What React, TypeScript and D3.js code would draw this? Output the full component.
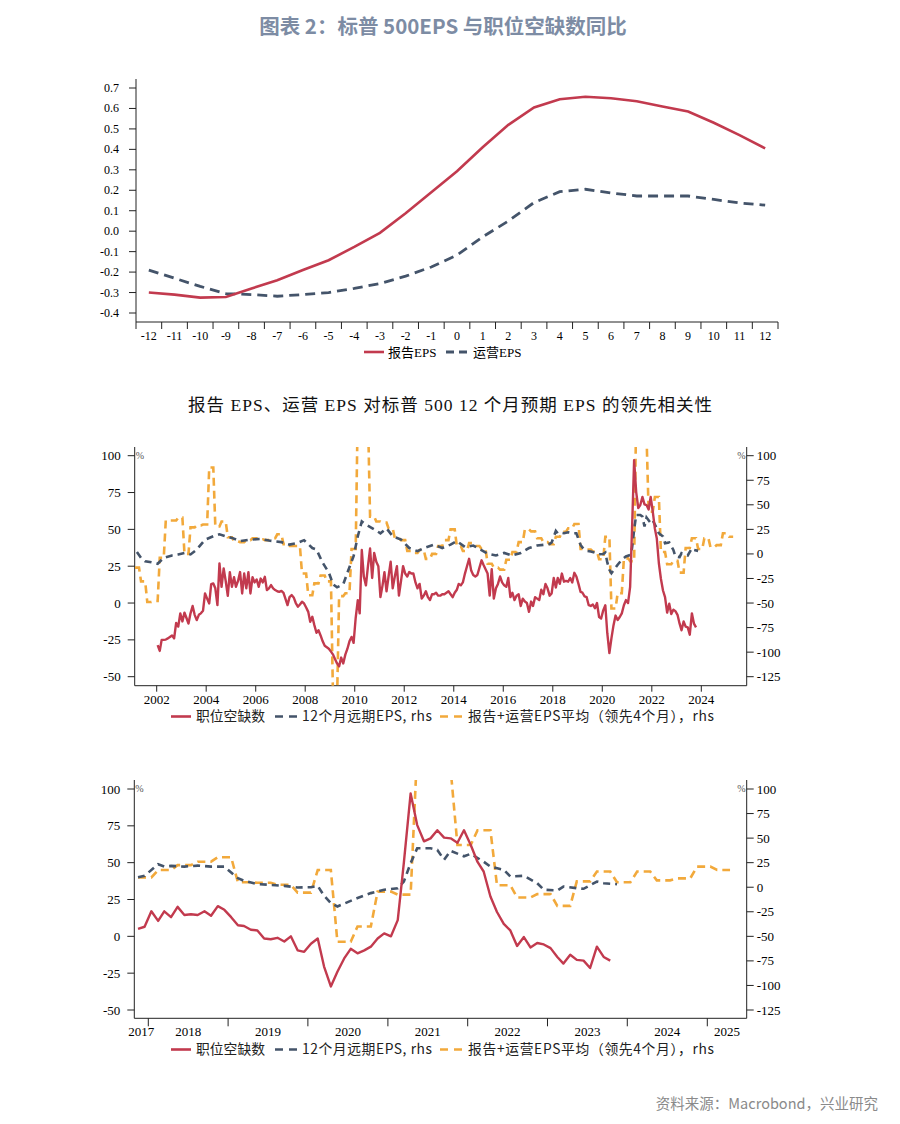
import * as d3 from "d3";
import React, { useEffect, useRef } from "react";

// ---- top chart: lead correlation ----
const lags = ["-12", "-11", "-10", "-9", "-8", "-7", "-6", "-5", "-4", "-3", "-2", "-1", "0", "1", "2", "3", "4", "5", "6", "7", "8", "9", "10", "11", "12"];
const reportedEps = [-0.3, -0.31, -0.325, -0.322, -0.28, -0.24, -0.19, -0.142, -0.077, -0.008, 0.088, 0.19, 0.293, 0.41, 0.52, 0.605, 0.645, 0.657, 0.65, 0.635, 0.61, 0.585, 0.53, 0.47, 0.405];
const operatingEps = [-0.19, -0.23, -0.27, -0.305, -0.31, -0.318, -0.31, -0.3, -0.28, -0.256, -0.22, -0.175, -0.117, -0.028, 0.05, 0.14, 0.193, 0.205, 0.187, 0.172, 0.172, 0.172, 0.155, 0.138, 0.127];
const topYTicks = [-0.4, -0.3, -0.2, -0.1, 0, 0.1, 0.2, 0.3, 0.4, 0.5, 0.6, 0.7];

// ---- job openings YoY (%), monthly from 2002-01 ----
const jobStart = "2002-01";
const jobOpenings = [
  -28.6, -32.5, -25, -25, -24.8, -24, -23, -22, -24, -13.5, -16, -7,
  -12.5, -6.5, -10, -13.9, -7, -2, -8, -11.6, -8, -7, -5.3, 6.5,
  3, -0.3, 12.8, 13.3, 10, -1.4, 26.9, 11, 23.5, 15, 4.9, 21,
  11, 17.5, 11, 15, 21, 6.5, 20, 10, 21, 6.5, 17.5, 14,
  16, 11, 16.6, 14, 17.8, 8.8, 10, 12.2, 10, 8.8, 8, 7.6,
  8.2, 6.9, 3, -1.4, 4, 5.4, 3.8, 0, -2.5, -1, 0.9, -0.3,
  -3, -6, -12.7, -9.3, -15, -20.2, -18.5, -22, -26, -29, -30, -31,
  -33, -35, -38, -41, -43, -37, -41, -35, -31, -26, -23, -27,
  -10, 2, -7, 36, 18, 12, 25, 37, 17, 34, 28, 25,
  4, 12, 21, 8, 18, 28, 10, 18, 25, 5, 15, 25,
  20, 18, 21, 20, 20, 14, 10, 13, 3, 5, 8, 4,
  2, 6, 6, 7, 5, 5, 6, 6, 7, 8, 6, 4,
  7, 9, 13, 12, 14, 20, 25, 30, 22, 19, 18, 19,
  24, 29, 26, 23, 20, 5, 23, 3, 10, 13, 18, 14,
  12, 11, 17, 4, 7, 2, 5, 6, -2, 3, 1, 0,
  -6, 1, -2, 4, 3, 2, 9, 6, 13, 10, 5, 6.5,
  17, 10.5, 17, 13, 20, 14.5, 15, 14.5, 17, 14, 20.5, 18,
  13, 7.5, 7, 4.5, 4, -1.5, -2, -1, -3.5, 0, -9.5, -10.5,
  -5, -1.5, -20.5, -34, -24, -15, -8.5, -11.5, -9.5, -7, -1.5, 2,
  0, 11, 50, 97, 75.5, 64.5, 66.5, 72, 67, 66.5, 63.5, 72,
  62, 50.5, 44, 27, 16.5, 8.5, 4, -6.5, -0.5, -7.5, -4.5, -5.5,
  -8, -14, -18.5, -12.5, -16, -16.5, -21.5, -7, -14, -16.5,
];

// ---- 12M forward EPS YoY (%), rhs ----
const fwdEps: [string, number][] = [
  ["2001-03", 2], ["2001-05", -4], ["2001-07", -7.5], ["2001-10", -8.5], ["2002-01", -10], ["2002-04", -4],
  ["2002-08", -1.5], ["2002-11", -0.5], ["2003-02", 1], ["2003-05", -0.5], ["2003-08", 4.5], ["2003-12", 14.5],
  ["2004-04", 18], ["2004-07", 20], ["2004-10", 18], ["2005-01", 16.3], ["2005-05", 13], ["2005-10", 14.6],
  ["2006-03", 15.3], ["2006-07", 13.6], ["2007-01", 12], ["2007-05", 9.5], ["2007-09", 11.3], ["2007-12", 14],
  ["2008-04", 6], ["2008-06", 4.5], ["2008-09", -9], ["2008-12", -19], ["2009-02", -31], ["2009-04", -34],
  ["2009-07", -31], ["2009-09", -19], ["2009-12", -2.3], ["2010-02", 18], ["2010-04", 33], ["2010-06", 30],
  ["2010-10", 25], ["2011-01", 21], ["2011-04", 26], ["2011-07", 18], ["2011-11", 14.6], ["2012-03", 6],
  ["2012-07", 2.8], ["2012-10", 6], ["2013-03", 9.5], ["2013-07", 6], ["2013-11", 9.5], ["2014-02", 13],
  ["2014-06", 7], ["2014-10", 8.5], ["2015-01", 5], ["2015-05", 0.4], ["2015-09", -1.6], ["2016-01", 1],
  ["2016-05", -1.6], ["2016-09", 1], ["2017-01", 6], ["2017-05", 8.5], ["2017-09", 9.5], ["2017-11", 10.2],
  ["2017-12", 11.6], ["2018-02", 23.4], ["2018-03", 21], ["2018-04", 21.7], ["2018-06", 21], ["2018-08", 22],
  ["2018-10", 21], ["2018-12", 21], ["2019-01", 15], ["2019-02", 9.2], ["2019-03", 6.5], ["2019-05", 3.1],
  ["2019-07", 2.4], ["2019-09", 1.4], ["2019-11", -0.3], ["2020-01", 0], ["2020-02", 1.4], ["2020-03", -8.7],
  ["2020-04", -16.2], ["2020-05", -19.6], ["2020-08", -11], ["2020-10", -6], ["2020-12", -2.6], ["2021-02", -1],
  ["2021-03", 5.8], ["2021-04", 24.5], ["2021-05", 39.7], ["2021-07", 39.7], ["2021-08", 38], ["2021-09", 28],
  ["2021-10", 37], ["2021-12", 31.5], ["2022-01", 34], ["2022-03", 26], ["2022-04", 21], ["2022-06", 17.7],
  ["2022-07", 10.9], ["2022-09", 11.6], ["2022-11", 4.1], ["2022-12", -2.6], ["2023-02", -3.3], ["2023-03", 0.7],
  ["2023-05", -1], ["2023-06", -1.6], ["2023-08", 5.8], ["2023-09", 4.1], ["2023-11", 3.1],
];

// ---- reported + operating EPS average, 4m lead (%), rhs: one value per 3-month block from 2001-02 ----
const avgStart = "2001-02";
const epsAvg = [
  -14, -28, -49, -48, -4, 34, 34, 37, 0, 27, 29, 30, 88, 28, 33, 17, 13, 12, 14, 16, 15, 14, 16, 20,
  10, 8, 8, -20, -42, -30, -22, -28, -150, -43, -40, 5, 150, 140, 38, 33, 32, 26, 16, 14, 3, 1, 4, -5,
  0, 8, 14, 25, 8, 3, 11, 8, 5, -10, -14, -16, -6, 2, 12, 25, 23, 16, 12, 10, 17.5, 22.5, 26, 30.5,
  5, 4.5, 2.5, -5.5, 17.5, -55.5, -40, -4.5, -7.5, 140, 120, 43, 58, 2, -10.5, -7, -19, 6, 16, 5,
  16, 7, 9, 21, 17.5,
];

const leftTicks = [-50, -25, 0, 25, 50, 75, 100];
const rightTicks = [-125, -100, -75, -50, -25, 0, 25, 50, 75, 100];
const midYears = [2002, 2004, 2006, 2008, 2010, 2012, 2014, 2016, 2018, 2020, 2022, 2024];
const lowYears = [2017, 2018, 2019, 2020, 2021, 2022, 2023, 2024, 2025];

const RED = "#c23a4e";
const NAVY = "#44546a";
const ORANGE = "#f2a93b";
const SERIF = "'Liberation Serif', 'Times New Roman', 'Noto Sans CJK SC', serif";
const CJK = "'Noto Sans CJK SC', 'Noto Sans', sans-serif";

const monthDate = (s: string, add = 0) => {
  const [y, m] = s.split("-").map(Number);
  return new Date(y, m - 1 + add, 15);
};

export default function App() {
  const ref = useRef<SVGSVGElement | null>(null);

  useEffect(() => {
    const svg = d3.select(ref.current);
    svg.selectAll("*").remove();

    svg.append("text").attr("x", 443).attr("y", 34).attr("text-anchor", "middle")
      .attr("font-family", CJK).attr("font-weight", 700).attr("font-size", 20.5).attr("fill", "#7d8ca4")
      .text("图表 2：标普 500EPS 与职位空缺数同比");

    // ================= top chart =================
    const tx = d3.scaleBand<string>().domain(lags).range([136, 778]);
    const ty = d3.scaleLinear().domain([-0.4, 0.7]).range([313, 88]);
    const top = svg.append("g");
    top.append("line").attr("x1", 136).attr("x2", 136).attr("y1", 79).attr("y2", 322).attr("stroke", "#222");
    top.append("line").attr("x1", 136).attr("x2", 778).attr("y1", 322).attr("y2", 322).attr("stroke", "#222");
    topYTicks.forEach((t) => {
      top.append("line").attr("x1", 129).attr("x2", 136).attr("y1", ty(t)).attr("y2", ty(t)).attr("stroke", "#222");
      top.append("text").attr("x", 119).attr("y", ty(t) + 4).attr("text-anchor", "end")
        .attr("font-family", SERIF).attr("font-size", 12).text(t.toFixed(1));
    });
    lags.forEach((l, i) => {
      const x0 = tx(l)!;
      top.append("line").attr("x1", x0).attr("x2", x0).attr("y1", 322).attr("y2", 329).attr("stroke", "#222");
      if (i === lags.length - 1) {
        top.append("line").attr("x1", x0 + tx.bandwidth()).attr("x2", x0 + tx.bandwidth()).attr("y1", 322).attr("y2", 329).attr("stroke", "#222");
      }
      top.append("text").attr("x", x0 + tx.bandwidth() / 2).attr("y", 340).attr("text-anchor", "middle")
        .attr("font-family", SERIF).attr("font-size", 12).text(l);
    });
    const topLine = d3.line<number>().x((_, i) => tx(lags[i])! + tx.bandwidth() / 2).y((d) => ty(d));
    top.append("path").attr("d", topLine(operatingEps)).attr("fill", "none").attr("stroke", NAVY)
      .attr("stroke-width", 2.8).attr("stroke-dasharray", "10,6");
    top.append("path").attr("d", topLine(reportedEps)).attr("fill", "none").attr("stroke", RED).attr("stroke-width", 2.6);
    // legend
    top.append("line").attr("x1", 364).attr("x2", 384).attr("y1", 352).attr("y2", 352).attr("stroke", RED).attr("stroke-width", 2.6);
    top.append("text").attr("x", 388).attr("y", 356.5).attr("font-family", SERIF).attr("font-size", 13).text("报告EPS");
    top.append("line").attr("x1", 446).attr("x2", 469).attr("y1", 352).attr("y2", 352).attr("stroke", NAVY)
      .attr("stroke-width", 2.8).attr("stroke-dasharray", "8,5");
    top.append("text").attr("x", 473).attr("y", 356.5).attr("font-family", SERIF).attr("font-size", 13).text("运营EPS");

    svg.append("text").attr("x", 188).attr("y", 411)
      .attr("font-family", SERIF).attr("font-size", 17.5).attr("fill", "#111")
      .attr("textLength", 524).attr("lengthAdjust", "spacing")
      .text("报告 EPS、运营 EPS 对标普 500 12 个月预期 EPS 的领先相关性");

    // ================= time-series panels =================
    const redPts: [Date, number][] = jobOpenings.map((v, i) => [monthDate(jobStart, i), v]);
    const bluePts: [Date, number][] = fwdEps.map(([s, v]) => [monthDate(s), v]);
    const orangePts: [Date, number][] = epsAvg.flatMap((v, i) => [
      [monthDate(avgStart, 3 * i), v] as [Date, number],
      [monthDate(avgStart, 3 * i + 2), v] as [Date, number],
    ]);

    const panel = (o: {
      id: string; left: number; right: number; top: number; bottom: number;
      y100: number; yLow: number; d0: Date; d1: Date; x0: number; x1: number;
      minDate: Date; boundaries: boolean; legendY: number;
    }) => {
      const g = svg.append("g");
      const x = d3.scaleTime().domain([o.d0, o.d1]).range([o.x0, o.x1]);
      const yl = d3.scaleLinear().domain([-50, 100]).range([o.yLow, o.y100]);
      const yr = d3.scaleLinear().domain([-125, 100]).range([o.yLow, o.y100]);

      g.append("clipPath").attr("id", o.id).append("rect")
        .attr("x", o.left).attr("y", o.top).attr("width", o.right - o.left).attr("height", o.bottom - o.top);

      // axes
      g.append("line").attr("x1", o.left).attr("x2", o.left).attr("y1", o.top).attr("y2", o.bottom).attr("stroke", "#222");
      g.append("line").attr("x1", o.right).attr("x2", o.right).attr("y1", o.top).attr("y2", o.bottom).attr("stroke", "#222");
      g.append("line").attr("x1", o.left).attr("x2", o.right).attr("y1", o.bottom).attr("y2", o.bottom).attr("stroke", "#222");
      leftTicks.forEach((t) => {
        g.append("line").attr("x1", o.left - 7).attr("x2", o.left).attr("y1", yl(t)).attr("y2", yl(t)).attr("stroke", "#222");
        g.append("text").attr("x", o.left - 14).attr("y", yl(t) + 4.5).attr("text-anchor", "end")
          .attr("font-family", SERIF).attr("font-size", 13).text(t);
      });
      rightTicks.forEach((t) => {
        g.append("line").attr("x1", o.right).attr("x2", o.right + 7).attr("y1", yr(t)).attr("y2", yr(t)).attr("stroke", "#222");
        g.append("text").attr("x", o.right + 10).attr("y", yr(t) + 4.5)
          .attr("font-family", SERIF).attr("font-size", 13).text(t);
      });
      g.append("text").attr("x", o.left + 1).attr("y", o.y100 + 3).attr("font-family", SERIF).attr("font-size", 10).attr("fill", "#555").text("%");
      g.append("text").attr("x", o.right - 1).attr("y", o.y100 + 3).attr("text-anchor", "end").attr("font-family", SERIF).attr("font-size", 10).attr("fill", "#555").text("%");

      if (!o.boundaries) {
        midYears.forEach((yv) => {
          const xx = x(new Date(yv, 0, 1));
          g.append("line").attr("x1", xx).attr("x2", xx).attr("y1", o.bottom).attr("y2", o.bottom + 6).attr("stroke", "#222");
          g.append("text").attr("x", xx).attr("y", o.bottom + 18).attr("text-anchor", "middle")
            .attr("font-family", SERIF).attr("font-size", 13).text(yv);
        });
      } else {
        lowYears.forEach((yv) => {
          const a = Math.max(o.left, x(new Date(yv, 0, 1)));
          const b = Math.min(o.right, x(new Date(yv + 1, 0, 1)));
          if (yv > lowYears[0]) {
            g.append("line").attr("x1", a).attr("x2", a).attr("y1", o.bottom).attr("y2", o.bottom + 8).attr("stroke", "#222");
          }
          g.append("text").attr("x", (a + b) / 2).attr("y", o.bottom + 18).attr("text-anchor", "middle")
            .attr("font-family", SERIF).attr("font-size", 13).text(yv);
        });
      }

      const plot = g.append("g").attr("clip-path", `url(#${o.id})`);
      const keep = (p: [Date, number]) => p[0] >= o.minDate;
      const lineL = d3.line<[Date, number]>().x((d) => x(d[0])).y((d) => yl(d[1]));
      const lineR = d3.line<[Date, number]>().x((d) => x(d[0])).y((d) => yr(d[1]));
      plot.append("path").attr("d", lineR(orangePts.filter(keep))).attr("fill", "none").attr("stroke", ORANGE)
        .attr("stroke-width", 2.6).attr("stroke-dasharray", "8,5");
      plot.append("path").attr("d", lineR(bluePts.filter(keep))).attr("fill", "none").attr("stroke", NAVY)
        .attr("stroke-width", 2.6).attr("stroke-dasharray", "7,5");
      plot.append("path").attr("d", lineL(redPts.filter(keep))).attr("fill", "none").attr("stroke", RED)
        .attr("stroke-width", 2.4).attr("stroke-linejoin", "round");

      // legend
      const ly = o.legendY;
      const fs = 13.8;
      g.append("line").attr("x1", 171).attr("x2", 191).attr("y1", ly).attr("y2", ly).attr("stroke", RED).attr("stroke-width", 2.6);
      g.append("text").attr("x", 196).attr("y", ly + 4.5).attr("font-family", CJK).attr("font-size", fs).attr("fill", "#222").text("职位空缺数");
      g.append("line").attr("x1", 275).attr("x2", 298).attr("y1", ly).attr("y2", ly).attr("stroke", NAVY)
        .attr("stroke-width", 2.6).attr("stroke-dasharray", "8,6");
      g.append("text").attr("x", 302).attr("y", ly + 4.5).attr("font-family", CJK).attr("font-size", fs).attr("fill", "#222")
        .attr("textLength", 130).attr("lengthAdjust", "spacing").text("12个月远期EPS, rhs");
      g.append("line").attr("x1", 440).attr("x2", 463).attr("y1", ly).attr("y2", ly).attr("stroke", ORANGE)
        .attr("stroke-width", 2.6).attr("stroke-dasharray", "8,6");
      g.append("text").attr("x", 468).attr("y", ly + 4.5).attr("font-family", CJK).attr("font-size", fs).attr("fill", "#222")
        .attr("textLength", 246).attr("lengthAdjust", "spacing").text("报告+运营EPS平均（领先4个月），rhs");
    };

    panel({
      id: "clipMid", left: 134.7, right: 746.7, top: 447, bottom: 685.7, y100: 455.7, yLow: 676.7,
      d0: new Date(2002, 0, 1), d1: new Date(2024, 0, 1), x0: 156.7, x1: 701.3,
      minDate: new Date(2000, 0, 1), boundaries: false, legendY: 716.5,
    });
    panel({
      id: "clipLow", left: 134.3, right: 746.7, top: 780, bottom: 1018.3, y100: 789, yLow: 1010,
      d0: new Date(2018, 0, 1), d1: new Date(2025, 0, 1), x0: 148.3, x1: 707.3,
      minDate: new Date(2017, 10, 1), boundaries: true, legendY: 1049.5,
    });

    svg.append("text").attr("x", 878).attr("y", 1109).attr("text-anchor", "end")
      .attr("font-family", CJK).attr("font-size", 14.5).attr("fill", "#8a8a8a")
      .text("资料来源：Macrobond，兴业研究");
  }, []);

  return (
    <svg ref={ref} width={900} height={1124}
      style={{ position: "absolute", left: 0, top: 0, background: "#fff" }} />
  );
}
